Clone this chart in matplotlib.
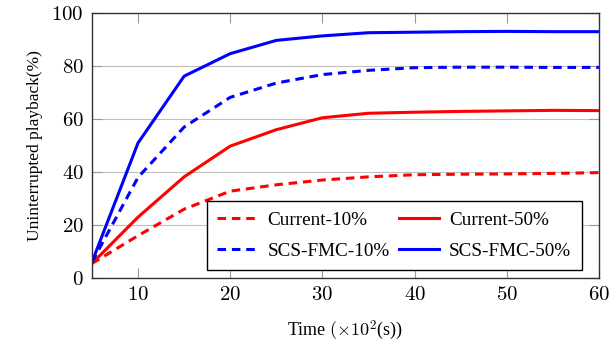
import matplotlib
matplotlib.use("Agg")
import matplotlib.pyplot as plt

time = [5, 10, 15, 20, 25, 30, 35, 40, 45, 50, 55, 60]
current_10 = [5.5, 16.0, 26.0, 32.8, 35.2, 37.0, 38.2, 39.0, 39.2, 39.3, 39.5, 39.8]
current_50 = [5.5, 23.0, 38.2, 49.8, 56.0, 60.5, 62.2, 62.6, 62.9, 63.1, 63.3, 63.2]
scs_10 = [6.0, 38.0, 57.0, 68.2, 73.6, 76.8, 78.4, 79.4, 79.6, 79.6, 79.5, 79.5]
scs_50 = [6.0, 51.0, 76.2, 84.7, 89.7, 91.4, 92.6, 92.8, 93.0, 93.1, 93.0, 93.0]

plt.rcParams['mathtext.fontset'] = 'cm'
plt.rcParams['font.family'] = ['Liberation Serif', 'DejaVu Serif']

fig = plt.figure(figsize=(6.13, 3.45), dpi=100)
ax = fig.add_axes([0.150, 0.194, 0.827, 0.768])

lw = 2.2
dash = (0, (2.8, 1.9))
l1, = ax.plot(time, current_10, color='#ff0000', lw=lw, linestyle=dash, label='Current-10%')
l2, = ax.plot(time, current_50, color='#ff0000', lw=lw, label='Current-50%')
l3, = ax.plot(time, scs_10, color='#0000ff', lw=lw, linestyle=dash, label='SCS-FMC-10%')
l4, = ax.plot(time, scs_50, color='#0000ff', lw=lw, label='SCS-FMC-50%')

ax.set_xlim(5, 60)
ax.set_ylim(0, 100)
ax.set_xticks([10, 20, 30, 40, 50, 60])
ax.set_yticks([0, 20, 40, 60, 80, 100])
ax.set_xticklabels([r'$%d$' % v for v in [10, 20, 30, 40, 50, 60]], fontsize=15)
ax.set_yticklabels([r'$%d$' % v for v in [0, 20, 40, 60, 80, 100]], fontsize=15)
ax.yaxis.grid(True, color='#c0c0c0', lw=0.8)
ax.set_axisbelow(True)
ax.tick_params(direction='in', length=7, width=0.8, color='#9a9a9a', top=True, right=True, pad=6)
for s in ax.spines.values():
    s.set_linewidth(1.0)
    s.set_color('#333333')

ax.set_xlabel(r'Time $(\times 10^2$(s))', fontsize=13, labelpad=9)
ax.set_ylabel('Uninterrupted playback(%)', fontsize=12.5, labelpad=6)

leg = ax.legend(handles=[l1, l3, l2, l4], ncol=2, loc='lower right',
                bbox_to_anchor=(0.966, 0.030), borderaxespad=0.0,
                fontsize=13.8, frameon=True,
                fancybox=False, edgecolor='black', framealpha=1,
                handlelength=2.1, columnspacing=0.5, handletextpad=0.5,
                borderpad=0.55, labelspacing=0.68)
leg.get_frame().set_linewidth(1.0)

fig.savefig('out.png', dpi=100)
